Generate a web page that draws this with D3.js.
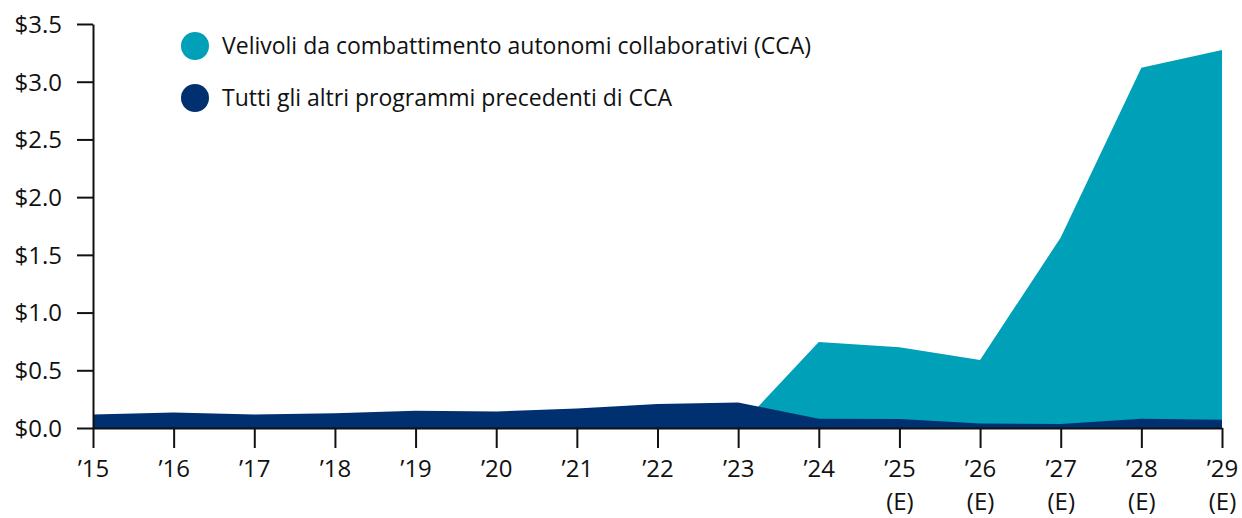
<!DOCTYPE html>
<html>
<head>
<meta charset="utf-8">
<script src="https://cdn.jsdelivr.net/npm/d3@7"></script>
<style>
  body { margin: 0; background: #fff; }
  text { font-family: "Open Sans", Lato, sans-serif; fill: #111; }
</style>
</head>
<body>
<div id="chart"></div>
<script>
// data
var years = ["’15", "’16", "’17", "’18", "’19", "’20", "’21", "’22", "’23", "’24", "’25", "’26", "’27", "’28", "’29"];
var estimated = [false, false, false, false, false, false, false, false, false, false, true, true, true, true, true];
var ccaValues = [0, 0, 0, 0, 0, 0, 0, 0, 0, 0.745, 0.70, 0.59, 1.65, 3.12, 3.275];
var legacyValues = [0.118, 0.135, 0.116, 0.128, 0.15, 0.143, 0.17, 0.207, 0.222, 0.08, 0.078, 0.04, 0.035, 0.08, 0.072];
var yTicks = [0, 0.5, 1.0, 1.5, 2.0, 2.5, 3.0, 3.5];
var seriesNames = ["Velivoli da combattimento autonomi collaborativi (CCA)", "Tutti gli altri programmi precedenti di CCA"];
var seriesColors = ["#00a0b8", "#003070"];

var margin = {top: 24, right: 20, bottom: 90, left: 93};
var width = 1242 - margin.left - margin.right;
var height = 518 - margin.top - margin.bottom;

var svg = d3.select("#chart").append("svg")
    .attr("width", 1242)
    .attr("height", 518)
    .append("g")
    .attr("transform", "translate(" + margin.left + "," + margin.top + ")");

var x = d3.scalePoint().domain(years).range([0, width]);
var y = d3.scaleLinear().domain([0, 3.5]).range([height, 0]);

var rows = years.map(function (yr, i) {
    return {year: yr, cca: ccaValues[i], legacy: legacyValues[i]};
});

// CCA area drawn from zero, legacy area laid over it
var ccaArea = d3.area()
    .x(function (d) { return x(d.year); })
    .y0(y(0))
    .y1(function (d) { return y(d.cca); });

var legacyArea = d3.area()
    .x(function (d) { return x(d.year); })
    .y0(y(0))
    .y1(function (d) { return y(d.legacy); });

svg.append("path").datum(rows).attr("d", ccaArea).attr("fill", seriesColors[0]);
svg.append("path").datum(rows).attr("d", legacyArea).attr("fill", seriesColors[1]);

// Axes
var yAxis = d3.axisLeft(y)
    .tickValues(yTicks)
    .tickSize(16)
    .tickSizeOuter(0)
    .tickPadding(15)
    .tickFormat(function (d) { return "$" + d.toFixed(1); });

var yG = svg.append("g").attr("class", "y-axis").call(yAxis);
yG.select(".domain").attr("stroke", "#111").attr("stroke-width", 2);
yG.selectAll(".tick line").attr("stroke", "#111").attr("stroke-width", 2);
yG.selectAll(".tick text").style("font-size", "24px").attr("fill", "#111").attr("dy", "0.35em");

var xAxis = d3.axisBottom(x).tickSize(20).tickSizeOuter(0).tickFormat("");
var xG = svg.append("g").attr("class", "x-axis")
    .attr("transform", "translate(0," + height + ")")
    .call(xAxis);
xG.select(".domain").attr("stroke", "#111").attr("stroke-width", 2);
xG.selectAll(".tick line").attr("stroke", "#111").attr("stroke-width", 2);

xG.selectAll(".tick").each(function (d, i) {
    var t = d3.select(this).append("text")
        .attr("text-anchor", "middle")
        .style("font-size", "24px")
        .attr("fill", "#111");
    t.append("tspan").attr("x", 0).attr("y", 49).text(d);
    if (estimated[i]) t.append("tspan").attr("x", 0).attr("y", 82).text("(E)");
});

// Legend
var legend = svg.append("g")
    .attr("class", "legend")
    .attr("transform", "translate(" + (195 - margin.left) + "," + (46 - margin.top) + ")");

seriesNames.forEach(function (name, i) {
    var row = legend.append("g").attr("transform", "translate(0," + (i * 52) + ")");
    row.append("circle").attr("r", 14).attr("fill", seriesColors[i]);
    row.append("text")
        .attr("x", 27)
        .attr("y", 8)
        .style("font-size", "23px")
        .text(name);
});
</script>
</body>
</html>
